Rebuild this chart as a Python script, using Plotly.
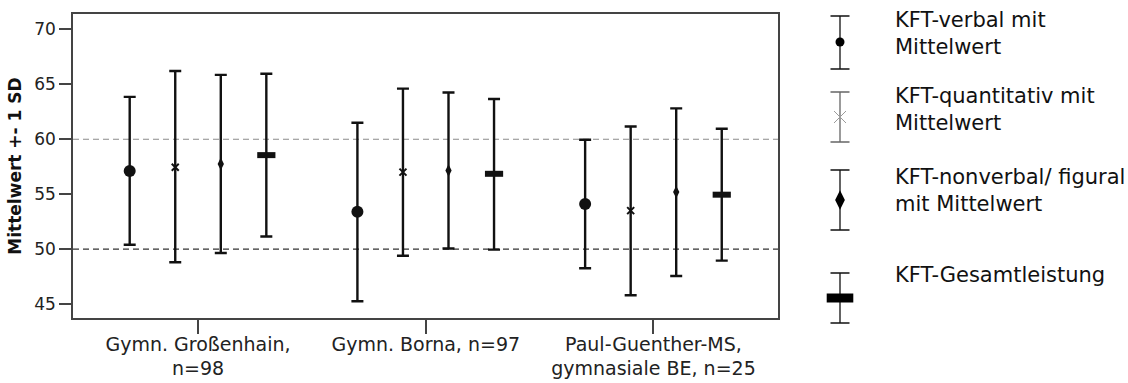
import plotly.graph_objects as go

# ---------------- data ----------------
CATEGORIES = ["Gymn. Großenhain,<br>n=98", "Gymn. Borna, n=97", "Paul-Guenther-MS,<br>gymnasiale BE, n=25"]
LEGEND_LABELS = ["KFT-verbal mit<br>Mittelwert", "KFT-quantitativ mit<br>Mittelwert",
                 "KFT-nonverbal/ figural<br>mit Mittelwert", "KFT-Gesamtleistung"]

VERBAL_MEAN = [57.1, 53.4, 54.1]
VERBAL_UPPER = [63.85, 61.5, 59.95]
VERBAL_LOWER = [50.4, 45.25, 48.25]

QUANT_MEAN = [57.45, 57.0, 53.5]
QUANT_UPPER = [66.2, 64.6, 61.15]
QUANT_LOWER = [48.8, 49.4, 45.8]

NONVERB_MEAN = [57.75, 57.15, 55.2]
NONVERB_UPPER = [65.85, 64.25, 62.8]
NONVERB_LOWER = [49.65, 50.05, 47.55]

TOTAL_MEAN = [58.55, 56.85, 54.95]
TOTAL_UPPER = [65.95, 63.65, 60.95]
TOTAL_LOWER = [51.15, 49.95, 48.95]

Y_TICKS = [45, 50, 55, 60, 65, 70]
REF_LINES = [50, 60]

# ---------------- layout / styles ----------------
W, H = 1128, 383
FONT = "DejaVu Sans"
OFFSETS = [-0.3, -0.1, 0.1, 0.3]
REF_STYLES = [dict(color="#333333", width=1.3), dict(color="#8a8a8a", width=1.1)]

SERIES = [
    (VERBAL_MEAN, VERBAL_UPPER, VERBAL_LOWER, dict(symbol="circle", size=12, color="#111111")),
    (QUANT_MEAN, QUANT_UPPER, QUANT_LOWER, dict(symbol="x-thin-open", size=7, color="#111111", line=dict(width=2, color="#111111"))),
    (NONVERB_MEAN, NONVERB_UPPER, NONVERB_LOWER, dict(symbol="diamond-tall", size=9, color="#111111")),
    (TOTAL_MEAN, TOTAL_UPPER, TOTAL_LOWER, dict(symbol="line-ew-open", size=13, color="#111111", line=dict(width=6, color="#111111"))),
]

# plot area: full height 0..343 px (b margin 40), x from 73..1128
M_L, M_B = 73, 40
PA_W, PA_H = W - M_L, H - M_B
X_DOM = [0, (778 - M_L) / PA_W]
Y_DOM = [(PA_H - 318) / PA_H, (PA_H - 14) / PA_H]

fig = go.Figure()

for j, (mean, up, lo, mk) in enumerate(SERIES):
    xs = [i + OFFSETS[j] for i in range(len(CATEGORIES))]
    fig.add_trace(go.Scatter(
        x=xs, y=mean, mode="markers", marker=mk, showlegend=False, hoverinfo="skip",
        error_y=dict(type="data", symmetric=False,
                     array=[u - m for u, m in zip(up, mean)],
                     arrayminus=[m - l for m, l in zip(mean, lo)],
                     color="#111111", thickness=2.4, width=6),
    ))

# ---------------- custom legend (pixel-like axis) ----------------
LEG_X = 840
LEG_CENTER = [42, 117, 200, 298]
LEG_TOP = [15, 92, 170, 273]
LEG_BOT = [68, 142, 230, 323]
LEG_TEXT_Y = [33.5, 109.5, 190, 275]
LEG_MARKERS = [
    dict(symbol="circle", size=9, color="#000000"),
    dict(symbol="x-thin-open", size=12, color="#9a9a9a", line=dict(width=1, color="#9a9a9a")),
    dict(symbol="diamond-tall", size=14, color="#000000"),
    dict(symbol="line-ew-open", size=19, color="#000000", line=dict(width=9, color="#000000")),
]
LEG_LINE = ["#111111", "#666666", "#111111", "#111111"]

for k in range(4):
    fig.add_trace(go.Scatter(
        x=[LEG_X], y=[LEG_CENTER[k]], xaxis="x2", yaxis="y2", mode="markers",
        marker=LEG_MARKERS[k], showlegend=False, hoverinfo="skip",
        error_y=dict(type="data", symmetric=False,
                     array=[LEG_CENTER[k] - LEG_TOP[k]],
                     arrayminus=[LEG_BOT[k] - LEG_CENTER[k]],
                     color=LEG_LINE[k], thickness=1.3, width=9.5),
    ))
    fig.add_annotation(x=893, y=LEG_TEXT_Y[k], xref="x2", yref="y2", text=LEGEND_LABELS[k],
                       xanchor="left", yanchor="middle", align="left", showarrow=False,
                       font=dict(family=FONT, size=21, color="#111111"))

shapes = []
for v, st in zip(REF_LINES, REF_STYLES):
    shapes.append(dict(type="line", xref="x domain", yref="y", x0=0, x1=1, y0=v, y1=v,
                       line=dict(color=st["color"], width=st["width"], dash="6px,4px"), layer="below"))

fig.update_layout(
    width=W, height=H, margin=dict(l=M_L, r=0, t=0, b=M_B, autoexpand=False),
    paper_bgcolor="white", plot_bgcolor="white", shapes=shapes,
    font=dict(family=FONT, color="#222222"),
    xaxis=dict(domain=X_DOM, range=[-0.549, 2.547], tickvals=list(range(len(CATEGORIES))),
               ticktext=CATEGORIES, ticks="outside", ticklen=14, tickwidth=2, tickcolor="#444444",
               ticklabelstandoff=-6,
               showline=True, mirror=True, linecolor="#444444", linewidth=1.6,
               showgrid=False, zeroline=False, tickfont=dict(family=FONT, size=19, color="#222222"),
               fixedrange=True),
    yaxis=dict(domain=Y_DOM, range=[43.73, 71.39], tickvals=Y_TICKS, ticks="outside", ticklen=12,
               tickwidth=2, tickcolor="#444444", showline=True, mirror=True, linecolor="#444444",
               linewidth=1.6, showgrid=False, zeroline=False,
               tickfont=dict(family=FONT, size=17, color="#222222"),
               title=dict(text="Mittelwert +- 1 SD", standoff=8,
                          font=dict(family=FONT, size=17, color="#111111", weight="bold")),
               fixedrange=True),
    xaxis2=dict(domain=[(800 - M_L) / PA_W, 1], range=[800, W], visible=False, fixedrange=True),
    yaxis2=dict(domain=[0, 1], range=[PA_H, 0], visible=False, fixedrange=True, anchor="x2"),
)

fig.write_html("out.html")
